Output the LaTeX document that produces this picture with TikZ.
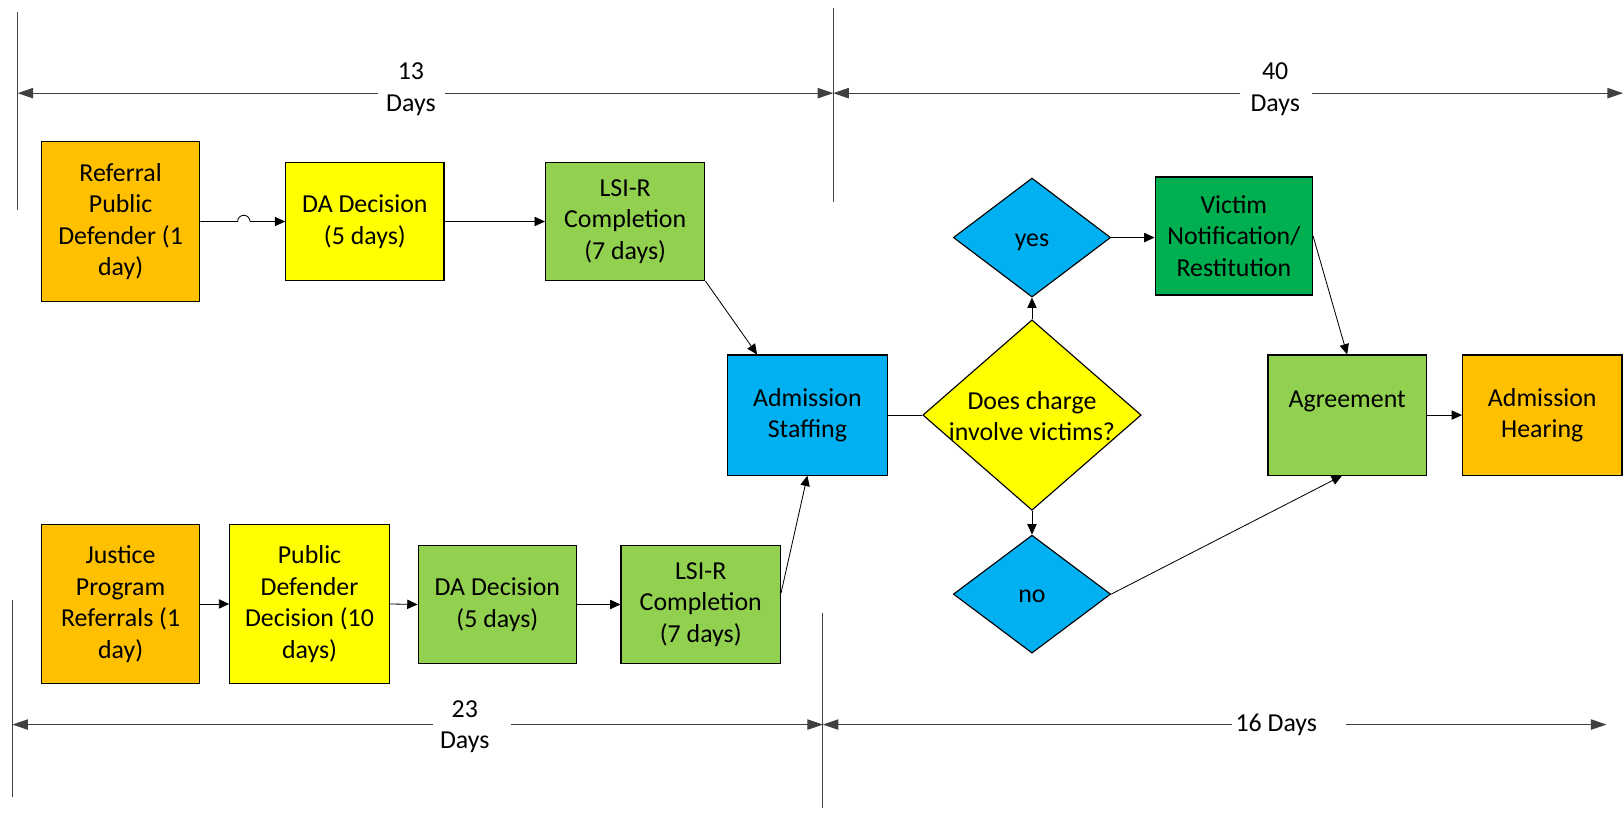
\documentclass[tikz,border=0pt]{standalone}
\usepackage{fontspec}
\setmainfont{Carlito}
\usetikzlibrary{shapes.geometric,arrows.meta,calc}
\definecolor{cOrange}{HTML}{FFC000}
\definecolor{cYellow}{HTML}{FFFF00}
\definecolor{cGreen}{HTML}{92D050}
\definecolor{cDkGreen}{HTML}{00B050}
\definecolor{cBlue}{HTML}{00B0F0}
\definecolor{cLine}{HTML}{404040}
\begin{document}
\begin{tikzpicture}[x=1pt,y=-1pt,
  txt/.style={font=\fontsize{25}{30.5}\selectfont},
  box/.style={txt, draw=black, line width=1.1pt, align=center, inner sep=0pt},
  dia/.style={draw=black, line width=1.1pt, shape=diamond, inner sep=0pt},
  arr/.style={line width=0.8pt, -{Triangle[length=10pt,width=9pt]}},
  ln/.style={line width=0.8pt},
  dimln/.style={draw=cLine, line width=1pt},
  dimtip/.style={dimln, -{Triangle[length=15pt,width=10pt]}},
  dimlbl/.style={txt, align=center, inner sep=0pt}
]
\useasboundingbox (0,0) rectangle (1568,789);

% ---- dimension lines ----
\coordinate (tl1) at (17,12);   \coordinate (tl2) at (17,203);
\coordinate (tm1) at (805,8);   \coordinate (tm2) at (805,195);
\coordinate (bl1) at (12,580);  \coordinate (bl2) at (12,770);
\coordinate (bm1) at (795,592); \coordinate (bm2) at (795,781);
\draw[dimln] (tl1) -- (tl2);
\draw[dimln] (tm1) -- (tm2);
\draw[dimln] (bl1) -- (bl2);
\draw[dimln] (bm1) -- (bm2);

\coordinate (a1) at (17,90);   \coordinate (g1a) at (365,90); \coordinate (g1b) at (430,90); \coordinate (a2) at (805,90);
\draw[dimtip] (g1a) -- (a1);
\draw[dimtip] (g1b) -- (a2);
\node[dimlbl] (d13) at (397,86) {13\\Days};

\coordinate (g2a) at (1198,90); \coordinate (g2b) at (1268,90); \coordinate (a3) at (1568,90);
\draw[dimtip] (g2a) -- (a2);
\draw[dimtip] (g2b) -- (a3);
\node[dimlbl] (d40) at (1232,86) {40\\Days};

\coordinate (b1) at (12,700);  \coordinate (g3a) at (418,700); \coordinate (g3b) at (494,700); \coordinate (b2) at (795,700);
\draw[dimtip] (g3a) -- (b1);
\draw[dimtip] (g3b) -- (b2);
\node[dimlbl] (d23) at (449,702) {23\\Days};

\coordinate (g4a) at (1190,700); \coordinate (g4b) at (1300,700); \coordinate (b3) at (1552,700);
\draw[dimtip] (g4a) -- (b2);
\draw[dimtip] (g4b) -- (b3);
\node[dimlbl] (d16) at (1233,700) {16 Days};

% ---- boxes ----
\node[box, fill=cOrange, minimum width=153pt, minimum height=154pt] (ref) at (116.5,214) {Referral\\Public\\Defender (1\\day)};
\node[box, fill=cYellow, minimum width=153pt, minimum height=114pt] (da) at (352.5,214) {DA Decision\\(5 days)};
\node[box, fill=cGreen, minimum width=154pt, minimum height=114pt] (lsi) at (604,214) {LSI-R\\Completion\\(7 days)};
\node[box, fill=cBlue, minimum width=154pt, minimum height=116pt] (adm) at (780,401) {Admission\\Staffing};
\node[box, fill=cDkGreen, minimum width=152pt, minimum height=114pt] (vic) at (1192,228) {Victim\\Notification/\\Restitution};
\node[box, fill=cGreen, minimum width=153pt, minimum height=116pt] (agr) at (1301.5,401) {Agreement\\\mbox{}};
\node[box, fill=cOrange, minimum width=154pt, minimum height=116pt] (hear) at (1490,401) {Admission\\Hearing};

\node[box, fill=cOrange, minimum width=153pt, minimum height=153pt] (jus) at (116.5,583.5) {Justice\\Program\\Referrals (1\\day)};
\node[box, fill=cYellow, minimum width=154pt, minimum height=153pt] (pd) at (299,583.5) {Public\\Defender\\Decision (10\\days)};
\node[box, fill=cGreen, minimum width=153pt, minimum height=114pt] (dal) at (480.5,584) {DA Decision\\(5 days)};
\node[box, fill=cGreen, minimum width=154pt, minimum height=114pt] (lsil) at (677,584) {LSI-R\\Completion\\(7 days)};

% ---- diamonds ----
\node[dia, fill=cYellow, minimum width=211pt, minimum height=184pt,
  label={[txt, align=center, yshift=-1pt]center:Does charge\\involve victims?}] (dec) at (997,401) {};
\node[dia, fill=cBlue, minimum width=152pt, minimum height=115pt,
  label={[txt, yshift=-5pt]center:yes}] (yes) at (997,229.5) {};
\node[dia, fill=cBlue, minimum width=152pt, minimum height=114pt,
  label={[txt, yshift=-2pt]center:no}] (no) at (997,574) {};

% ---- connectors ----
\draw[arr] (ref.east) -- ++(36,0) arc[start angle=180, end angle=360, radius=6] -- (da.west);
\draw[arr] (da) -- (lsi);
\draw[arr] (lsi.south east) -- ([xshift=29pt]adm.north west);
\draw[arr] ([yshift=11pt]lsil.east) -- (adm.south);
\draw[arr] (jus) -- (pd);
\draw[arr] (pd.east) -- (dal.west);
\draw[arr] (dal) -- (lsil);
\draw[ln] (adm.east) -- (dec.west);
\draw[arr] (dec.north) -- (yes.south);
\draw[arr] (dec.south) -- (no.north);
\draw[arr] (yes.east) -- (vic.west |- yes.east);
\draw[arr] (vic.east) -- (agr.north);
\draw[arr] (no.east) -- ([xshift=-5pt]agr.south);
\draw[arr] (agr) -- (hear);
\end{tikzpicture}
\end{document}
